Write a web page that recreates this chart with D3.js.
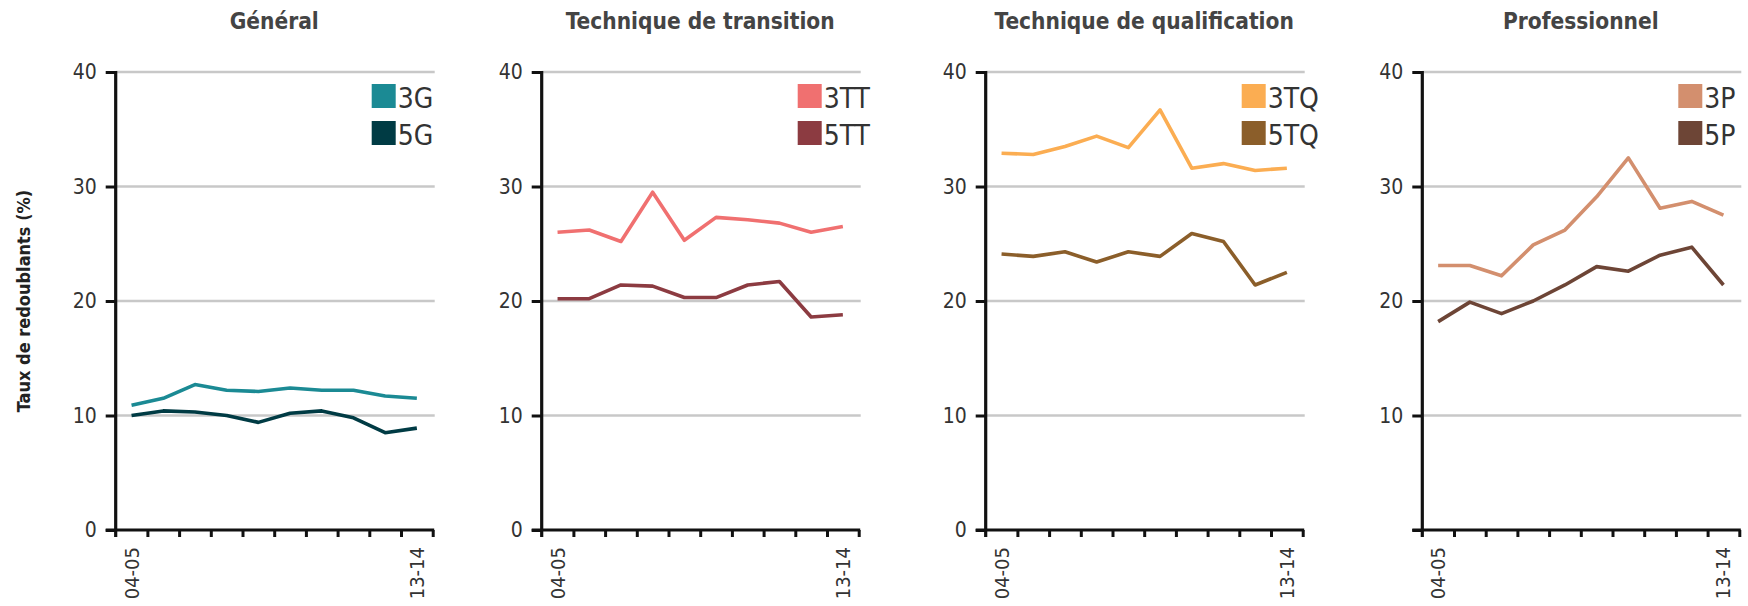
<!DOCTYPE html>
<html>
<head>
<meta charset="utf-8">
<script src="https://cdn.jsdelivr.net/npm/d3@7"></script>
<style>
  body { margin: 0; background: #fff; }
  text { font-family: 'Liberation Sans Narrow', 'DejaVu Sans Condensed', 'Roboto', sans-serif; }
</style>
</head>
<body>
<script>
// school years on the x axis
const years = ['04-05', '05-06', '06-07', '07-08', '08-09', '09-10', '10-11', '11-12', '12-13', '13-14'];
const yTicks = [0, 10, 20, 30, 40];

// repeaters rate (%) per stream
const g3 = [10.9, 11.5, 12.7, 12.2, 12.1, 12.4, 12.2, 12.2, 11.7, 11.5];
const g5 = [10.0, 10.4, 10.3, 10.0, 9.4, 10.2, 10.4, 9.8, 8.5, 8.9];
const tt3 = [26.0, 26.2, 25.2, 29.5, 25.3, 27.3, 27.1, 26.8, 26.0, 26.5];
const tt5 = [20.2, 20.2, 21.4, 21.3, 20.3, 20.3, 21.4, 21.7, 18.6, 18.8];
const tq3 = [32.9, 32.8, 33.5, 34.4, 33.4, 36.7, 31.6, 32.0, 31.4, 31.6];
const tq5 = [24.1, 23.9, 24.3, 23.4, 24.3, 23.9, 25.9, 25.2, 21.4, 22.5];
const p3 = [23.1, 23.1, 22.2, 24.9, 26.2, 29.1, 32.5, 28.1, 28.7, 27.5];
const p5 = [18.2, 19.9, 18.9, 20.0, 21.4, 23.0, 22.6, 24.0, 24.7, 21.4];

const titles = ['Général', 'Technique de transition', 'Technique de qualification', 'Professionnel'];
const names = [['3G', '5G'], ['3TT', '5TT'], ['3TQ', '5TQ'], ['3P', '5P']];
const values = [[g3, g5], [tt3, tt5], [tq3, tq5], [p3, p5]];
const colors = [['#1b8a94', '#003b44'], ['#f07070', '#8c3b41'], ['#fbad52', '#8b5e2a'], ['#d38f6e', '#6d4536']];

const W = 1748, H = 606;
const axisX = [115.7, 541.7, 985.7, 1422.3];
const plotW = 317;
const plotTop = 72, plotBottom = 530;

const svg = d3.select('body')
  .append('svg')
  .attr('width', W)
  .attr('height', H);

const y = d3.scaleLinear().domain([0, 40]).range([plotBottom, plotTop]);

svg.append('text')
  .attr('transform', 'translate(30,' + (plotTop + plotBottom) / 2 + ') rotate(-90)')
  .attr('text-anchor', 'middle')
  .attr('font-size', 18)
  .attr('font-weight', 'bold')
  .attr('fill', '#222')
  .text('Taux de redoublants (%)');

titles.forEach(function(title, p) {
  const g = svg.append('g').attr('transform', 'translate(' + axisX[p] + ',0)');
  const x = d3.scaleBand().domain(years).range([0, plotW]);
  const xi = d3.scaleLinear().domain([0, years.length]).range([0, plotW]);

  // grid lines
  g.selectAll('line.grid')
    .data(yTicks.filter(d => d > 0))
    .join('line')
    .attr('class', 'grid')
    .attr('x1', 0)
    .attr('x2', plotW + 2)
    .attr('y1', d => y(d))
    .attr('y2', d => y(d))
    .attr('stroke', '#c8c8c8')
    .attr('stroke-width', 2.5);

  // title
  g.append('text')
    .attr('x', plotW / 2)
    .attr('y', 29)
    .attr('text-anchor', 'middle')
    .attr('font-size', 22.5)
    .attr('font-weight', 'bold')
    .attr('fill', '#444')
    .text(title);

  // lines
  const line = d3.line()
    .x((d, i) => x(years[i]) + x.bandwidth() / 2)
    .y(d => y(d));
  values[p].forEach(function(v, s) {
    g.append('path')
      .datum(v)
      .attr('d', line)
      .attr('fill', 'none')
      .attr('stroke', colors[p][s])
      .attr('stroke-width', 3.6)
      .attr('stroke-linejoin', 'round');
  });

  // y axis
  const ya = g.append('g')
    .call(d3.axisLeft(y).tickValues(yTicks).tickSize(10).tickPadding(9)
      .tickFormat(d => (p == 3 && d == 0) ? '' : d));
  ya.select('.domain').remove();
  ya.selectAll('line').attr('stroke', '#111').attr('stroke-width', 3);
  ya.selectAll('text').attr('font-size', 21).attr('fill', '#333')
    .attr('font-family', "'Liberation Sans Narrow', 'DejaVu Sans Condensed', sans-serif");
  g.append('line')
    .attr('x1', 0).attr('x2', 0)
    .attr('y1', plotTop - 1).attr('y2', plotBottom + 7)
    .attr('stroke', '#111').attr('stroke-width', 3.2);

  // x axis with ticks between years
  const xa = g.append('g')
    .attr('transform', 'translate(0,' + plotBottom + ')')
    .call(d3.axisBottom(xi).tickValues(d3.range(1, years.length + 1)).tickSizeInner(7).tickSizeOuter(0).tickFormat(''));
  xa.select('.domain').remove();
  xa.selectAll('line').attr('stroke', '#111').attr('stroke-width', 3);
  g.append('line')
    .attr('x1', -10).attr('x2', plotW + 1.5)
    .attr('y1', plotBottom).attr('y2', plotBottom)
    .attr('stroke', '#111').attr('stroke-width', 3.2);

  // first and last year labels
  g.selectAll('text.year')
    .data([years[0], years[years.length - 1]])
    .join('text')
    .attr('class', 'year')
    .attr('transform', d => 'translate(' + (x(d) + x.bandwidth() / 2 + 7) + ',' + (plotBottom + 17) + ') rotate(-90)')
    .attr('text-anchor', 'end')
    .attr('font-size', 20)
    .attr('fill', '#333')
    .text(d => d);

  // legend
  const leg = g.append('g').attr('transform', 'translate(256,84)');
  names[p].forEach(function(n, s) {
    leg.append('rect')
      .attr('x', 0).attr('y', s * 37)
      .attr('width', 24).attr('height', 24)
      .attr('fill', colors[p][s]);
    leg.append('text')
      .attr('x', 26).attr('y', s * 37 + 24)
      .attr('font-size', 28)
      .attr('fill', '#333')
      .text(n);
  });
});
</script>
</body>
</html>
